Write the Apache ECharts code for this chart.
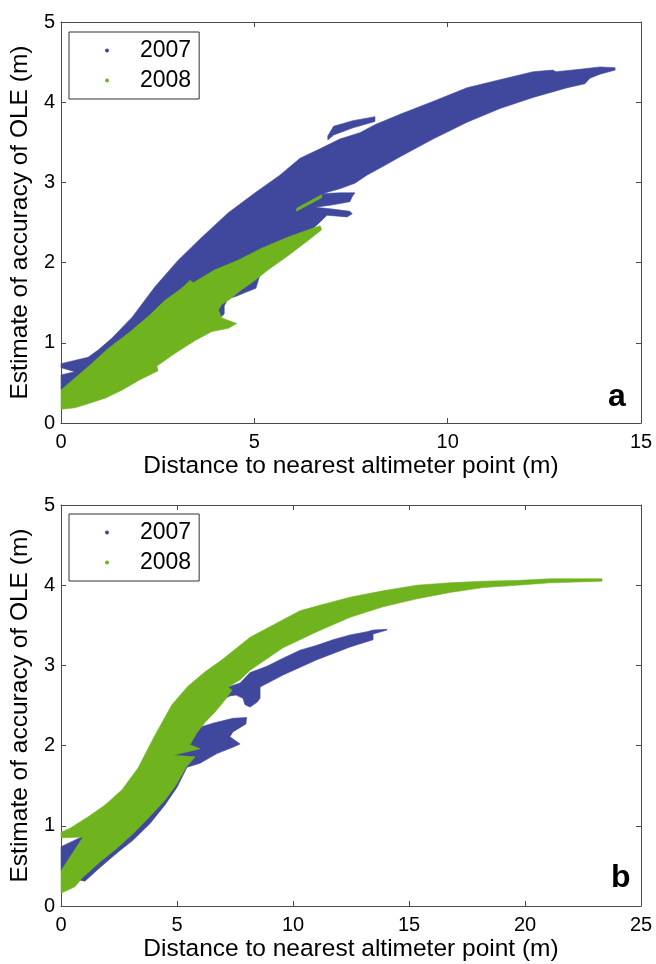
<!DOCTYPE html>
<html>
<head>
<meta charset="utf-8">
<script src="https://cdn.jsdelivr.net/npm/echarts@6/dist/echarts.min.js"></script>
<style>
  html, body { margin: 0; padding: 0; background: #fff; }
  #chart { width: 656px; height: 964px; }
</style>
</head>
<body>
<div id="chart"></div>
<script>
// Outlines of the dense point clouds, in data units (distance m, accuracy m).
// Panel a
const topCloud2007 = [
  [0.00,0.74],[0.70,0.82],[0.96,0.91],[1.32,1.06],[1.84,1.32],[2.43,1.70],[3.03,2.03],[3.65,2.32],
  [4.32,2.62],[5.02,2.87],[5.66,3.09],[6.18,3.30],[6.70,3.42],[7.21,3.54],[7.73,3.62],[8.12,3.72],
  [8.77,3.85],[9.62,4.01],[10.50,4.18],[11.35,4.28],[12.21,4.38],[12.72,4.40],[12.80,4.38],[13.42,4.41],
  [13.94,4.44],[14.33,4.43],
  [14.33,4.40],[13.94,4.35],[13.68,4.30],[13.55,4.23],[13.09,4.18],[12.21,4.06],[11.35,3.92],[10.50,3.75],
  [9.62,3.54],[8.77,3.32],[8.33,3.20],[7.91,3.09],[7.60,2.99],[7.21,2.92],[6.75,2.86],
  [7.21,2.87],[7.60,2.87],[7.53,2.82],[7.47,2.76],[7.03,2.72],[6.57,2.69],
  [6.96,2.67],[7.47,2.64],[7.53,2.61],[7.40,2.57],[6.88,2.59],[6.62,2.47],[6.40,2.38],
  [5.20,1.93],[5.09,1.76],[5.04,1.68],[4.78,1.63],[4.53,1.58],[4.32,1.55],[4.22,1.46],[4.22,1.36],
  [4.09,1.30],[3.90,1.28],[3.59,1.16],[2.30,0.79],[1.27,0.54],[0.49,0.44],[0.00,0.41],
  [0.00,0.60],[0.36,0.64],[0.00,0.69]
];
const topCloud2007Sliver = [
  [6.90,3.58],[7.05,3.70],[7.55,3.77],[8.12,3.82],[8.12,3.76],[7.55,3.68],[7.05,3.59],[6.90,3.53]
];
const topCloud2008 = [
  [0.00,0.41],[0.36,0.56],[0.79,0.74],[1.22,0.93],[1.74,1.12],[2.26,1.33],[2.69,1.53],[3.12,1.68],
  [3.34,1.78],[3.42,1.75],[3.98,1.91],[4.58,2.03],[5.19,2.18],[5.88,2.32],[6.40,2.41],[6.70,2.46],
  [6.74,2.41],[6.40,2.28],[5.88,2.09],[5.36,1.91],[5.02,1.78],[4.67,1.66],[4.33,1.53],[4.16,1.48],
  [4.07,1.41],[4.16,1.31],[4.54,1.24],[4.33,1.18],[3.90,1.14],[3.47,1.03],[2.95,0.87],[2.48,0.71],
  [2.51,0.65],[2.04,0.54],[1.58,0.41],[1.14,0.31],[0.70,0.24],[0.36,0.19],[0.00,0.17]
];
const topCloud2008Streak = [
  [6.09,2.64],[6.74,2.81],[6.75,2.85],[6.10,2.68]
];

// Panel b
const bottomCloud2007 = [
  [0.00,0.74],[0.95,0.87],[1.68,0.95],[2.97,1.26],[4.27,1.76],[5.56,2.32],[6.64,2.59],[7.20,2.73],
  [7.72,2.78],[8.15,2.91],[8.88,2.99],[9.57,3.09],[10.30,3.19],[11.03,3.25],[11.72,3.32],[12.46,3.38],
  [13.19,3.42],[13.45,3.44],[14.05,3.45],
  [14.05,3.44],[13.45,3.39],[13.45,3.32],[12.46,3.23],[11.03,3.07],[9.57,2.88],[8.58,2.73],[8.58,2.59],
  [8.45,2.54],[8.15,2.48],[7.93,2.51],[7.84,2.59],[7.54,2.63],[7.28,2.62],[6.94,2.57],[6.21,2.35],
  [5.99,2.23],[6.55,2.28],[7.41,2.34],[8.00,2.35],
  [7.97,2.27],[7.41,2.17],[7.28,2.11],[7.72,2.02],[7.41,1.98],[6.72,1.90],[5.99,1.78],[5.43,1.73],
  [5.00,1.48],[4.48,1.26],[3.84,1.03],[3.10,0.82],[2.41,0.66],[1.68,0.48],[1.03,0.31],[0.39,0.35],
  [0.00,0.44]
];
const bottomCloud2008 = [
  [0.00,0.92],[0.39,0.97],[1.16,1.11],[1.90,1.26],[2.63,1.45],[3.32,1.72],[4.05,2.13],[4.78,2.51],
  [5.47,2.74],[6.21,2.92],[6.94,3.07],[8.15,3.35],[9.57,3.57],[10.30,3.68],[11.03,3.74],[12.46,3.85],
  [13.88,3.93],[15.34,4.00],[16.77,4.03],[18.19,4.05],[19.66,4.06],[21.08,4.08],[23.32,4.08],
  [23.32,4.05],[21.08,4.03],[19.66,4.00],[18.19,3.97],[16.77,3.91],[15.34,3.83],[13.88,3.73],
  [12.46,3.60],[11.03,3.42],[9.57,3.22],[8.15,2.94],[7.72,2.82],[7.20,2.73],[7.37,2.69],[7.07,2.57],
  [6.64,2.42],[6.21,2.29],[5.86,2.16],[5.56,2.01],[5.99,1.96],[4.83,1.88],[5.78,1.86],[5.39,1.73],
  [4.96,1.51],[4.48,1.32],[3.84,1.12],[3.10,0.90],[2.41,0.72],[1.68,0.55],[0.91,0.35],[0.60,0.24],
  [0.00,0.16],[0.00,0.44],[0.95,0.86],[0.00,0.85]
];

// Axis ranges and tick steps
const topXRange = [0, 15];
const bottomXRange = [0, 25];
const xTickStep = 5;
const yRange = [0, 5];
const yTickStep = 1;
const years = ['2007', '2008'];
const panelLetters = ['a', 'b'];

const COLOR_2007 = '#3f489d';
const COLOR_2008 = '#6fb31f';
const FONT = "'Liberation Sans', Arial, Helvetica, sans-serif";
const AXIS_COLOR = '#4a4a4a';

// A custom series that fills one closed outline; vertices go through the axes via api.coord.
function cloudSeries(name, gridIdx, outline, color) {
  return {
    type: 'custom',
    name: name,
    coordinateSystem: 'cartesian2d',
    xAxisIndex: gridIdx * 2,
    yAxisIndex: gridIdx * 2,
    data: outline,
    silent: true,
    animation: false,
    itemStyle: { color: color },
    renderItem: function (params, api) {
      if (params.dataIndex !== 0) return null;
      const pts = outline.map(function (p) { return api.coord(p); });
      return {
        type: 'polygon',
        shape: { points: pts },
        style: { fill: color, stroke: color, lineWidth: 0.6 }
      };
    }
  };
}

function xAxes(gridIdx, range) {
  const common = {
    gridIndex: gridIdx, type: 'value', min: range[0], max: range[1], interval: xTickStep,
    axisLine: { show: true, onZero: false, lineStyle: { color: AXIS_COLOR, width: 1 } },
    axisTick: { show: true, inside: true, length: 5, lineStyle: { color: AXIS_COLOR } },
    splitLine: { show: false }
  };
  return [
    Object.assign({}, common, {
      position: 'bottom',
      name: 'Distance to nearest altimeter point (m)',
      nameLocation: 'middle', nameGap: 31,
      nameTextStyle: { fontSize: 24.5, color: '#000', fontFamily: FONT },
      axisLabel: { show: true, fontSize: 20, color: '#000', fontFamily: FONT, margin: 9,
                   showMinLabel: true, showMaxLabel: true }
    }),
    Object.assign({}, common, { position: 'top', axisLabel: { show: false } })
  ];
}

function yAxes(gridIdx) {
  const common = {
    gridIndex: gridIdx, type: 'value', min: yRange[0], max: yRange[1], interval: yTickStep,
    axisLine: { show: true, onZero: false, lineStyle: { color: AXIS_COLOR, width: 1 } },
    axisTick: { show: true, inside: true, length: 5, lineStyle: { color: AXIS_COLOR } },
    splitLine: { show: false }
  };
  return [
    Object.assign({}, common, {
      position: 'left',
      name: 'Estimate of accuracy of OLE (m)',
      nameLocation: 'middle', nameGap: 27,
      nameTextStyle: { fontSize: 24.5, color: '#000', fontFamily: FONT },
      axisLabel: { show: true, fontSize: 20, color: '#000', fontFamily: FONT, margin: 6,
                   showMinLabel: true, showMaxLabel: true }
    }),
    Object.assign({}, common, { position: 'right', axisLabel: { show: false } })
  ];
}

function legendAt(top) {
  return {
    data: years,
    orient: 'vertical',
    left: 69, top: top,
    icon: 'circle', itemWidth: 4, itemHeight: 4, itemGap: 7,
    padding: [7, 8, 7, 36],
    borderColor: '#333', borderWidth: 1, borderRadius: 0,
    backgroundColor: '#fff',
    selectedMode: false,
    textStyle: { fontSize: 23, color: '#000', fontFamily: FONT, padding: [0, 0, 0, 26] }
  };
}

const chart = echarts.init(document.getElementById('chart'), null, { renderer: 'canvas', devicePixelRatio: 1 });

chart.setOption({
  backgroundColor: '#fff',
  animation: false,
  textStyle: { fontFamily: FONT },
  grid: [
    { left: 61, top: 22, width: 580, height: 401, containLabel: false },
    { left: 61, top: 505, width: 580, height: 401, containLabel: false }
  ],
  xAxis: xAxes(0, topXRange).concat(xAxes(1, bottomXRange)),
  yAxis: yAxes(0).concat(yAxes(1)),
  legend: [legendAt(32), legendAt(514)],
  title: [
    { text: panelLetters[0], left: 603, top: 376,
      textStyle: { fontSize: 32, fontWeight: 'bold', color: '#000', fontFamily: FONT } },
    { text: panelLetters[1], left: 606, top: 857,
      textStyle: { fontSize: 32, fontWeight: 'bold', color: '#000', fontFamily: FONT } }
  ],
  series: [
    cloudSeries(years[0], 0, topCloud2007, COLOR_2007),
    cloudSeries(years[0], 0, topCloud2007Sliver, COLOR_2007),
    cloudSeries(years[1], 0, topCloud2008, COLOR_2008),
    cloudSeries(years[1], 0, topCloud2008Streak, COLOR_2008),
    cloudSeries(years[0], 1, bottomCloud2007, COLOR_2007),
    cloudSeries(years[1], 1, bottomCloud2008, COLOR_2008)
  ]
});
</script>
</body>
</html>
